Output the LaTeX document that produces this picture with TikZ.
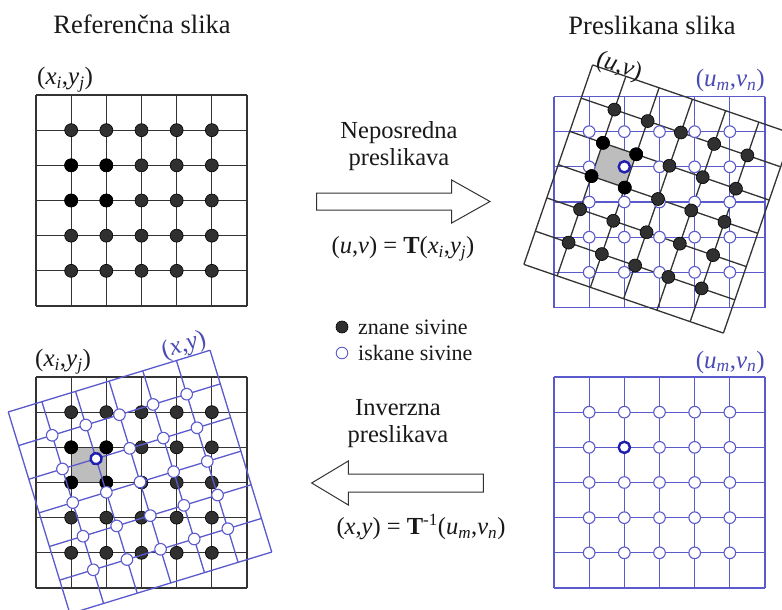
\documentclass[tikz,border=0pt]{standalone}
\usepackage{fontspec}
\setmainfont{Liberation Serif}
\definecolor{gline}{HTML}{333333}
\definecolor{bline}{HTML}{5A5ACD}
\definecolor{btext}{HTML}{4B4BB4}
\definecolor{bhi}{HTML}{2020B0}
\definecolor{dotc}{HTML}{303030}
\definecolor{cellg}{HTML}{BDBDBD}
\newcommand{\vx}[2]{\textit{#1}\textsubscript{\textit{#2}}}
\newcommand{\mygrid}[1]{%
  \foreach \k in {0,...,6} {
    \draw[#1] ({-105.5+\k*35.1667},-105.5) -- ({-105.5+\k*35.1667},105.5);
    \draw[#1] (-105.5,{-105.5+\k*35.1667}) -- (105.5,{-105.5+\k*35.1667});
  }}
\newcommand{\myfill}[3]{% style, i, j
  \fill[#1] ({-105.5+#2*35.1667},{-105.5+#3*35.1667}) circle (6.5pt);}
\newcommand{\myring}[3]{%
  \filldraw[#1] ({-105.5+#2*35.1667},{-105.5+#3*35.1667}) circle (5.8pt);}
\newcommand{\mydots}{%
  \foreach \i in {1,...,5} { \foreach \j in {1,...,5} {
    \filldraw[kdot] ({-105.5+\i*35.1667},{-105.5+\j*35.1667}) circle (6.5pt);}}
  \foreach \i/\j in {1/2,2/2,1/3,2/3} {
    \filldraw[kdotb] ({-105.5+\i*35.1667},{-105.5+\j*35.1667}) circle (6.5pt);}}
\newcommand{\myrings}{%
  \foreach \i in {1,...,5} { \foreach \j in {1,...,5} {
    \filldraw[odot] ({-105.5+\i*35.1667},{-105.5+\j*35.1667}) circle (5.8pt);}}
  \filldraw[hdot] ({-105.5+2*35.1667},{-105.5+2*35.1667}) circle (5.6pt);}
\newcommand{\mycell}{%
  \fill[cellg] ({-105.5+1*35.1667},{-105.5+2*35.1667}) rectangle ({-105.5+2*35.1667},{-105.5+3*35.1667});}
\tikzset{
  gridk/.style={draw=gline, line width=1.3pt},
  gridb/.style={draw=bline, line width=1.3pt},
  kdot/.style={fill=dotc, draw=black, line width=0.6pt},
  kdotb/.style={fill=black, draw=black, line width=0.6pt},
  odot/.style={fill=white, draw=bline, line width=1.1pt},
  hdot/.style={fill=white, draw=bhi, line width=2.4pt},
  title/.style={font=\fontsize{26.5}{30}\selectfont, inner sep=0pt, text=black!90},
  lbl/.style={font=\fontsize{25}{28}\selectfont, inner sep=0pt, text=black!90},
  blbl/.style={font=\fontsize{25}{28}\selectfont, inner sep=0pt, text=btext},
  mid/.style={font=\fontsize{24.5}{27}\selectfont, inner sep=0pt, align=center, text=black!90},
  leg/.style={font=\fontsize{22}{26}\selectfont, inner sep=0pt, anchor=west, text=black!90},
  bigarrow/.style={draw=gline, fill=white, line width=1pt, line join=miter},
}
\begin{document}
\begin{tikzpicture}[x=1pt, y=-1pt]
\useasboundingbox[fill=white] (0,0) rectangle (782,610);

% ---------- top left: reference image ----------
\begin{scope}[shift={(141.5,200.5)}]
  \mygrid{gridk}
  \mydots
\end{scope}

% ---------- top right: mapped image ----------
\begin{scope}[shift={(659.5,202)}]
  \mygrid{gridb}
\end{scope}
\begin{scope}[shift={(658,199)}, rotate=-19]
  \mycell
  \mygrid{gridk}
\end{scope}
\begin{scope}[shift={(659.5,202)}]
  \myrings
\end{scope}
\begin{scope}[shift={(658,199)}, rotate=-19]
  \mydots
\end{scope}

% ---------- bottom left: inverse ----------
\begin{scope}[shift={(141.5,482.5)}]
  \mycell
  \mygrid{gridk}
  \mydots
\end{scope}
\begin{scope}[shift={(140,482)}, rotate=17]
  \mygrid{gridb}
  \myrings
\end{scope}

% ---------- bottom right ----------
\begin{scope}[shift={(659.5,482.5)}]
  \mygrid{gridb}
  \myrings
\end{scope}

% ---------- titles and labels ----------
\node[title] (t1) at (142,24) {Referenčna slika};
\node[title] (t2) at (652,25) {Preslikana slika};
\node[lbl, anchor=base west] (l1) at (37,84.5) {(\vx{x}{i},\vx{y}{j})};
\node[lbl, anchor=base west] (l2) at (35,366.5) {(\vx{x}{i},\vx{y}{j})};
\node[blbl, rotate=17] (l3) at (184,346) {(\textit{x},\textit{y})};
\node[lbl, rotate=-19] (l4) at (619,67) {(\textit{u},\textit{v})};
\node[blbl, anchor=base east] (l5) at (765,87) {(\vx{u}{m},\vx{v}{n})};
\node[blbl, anchor=base east] (l6) at (765,368) {(\vx{u}{m},\vx{v}{n})};

% ---------- middle ----------
\node[mid] (m1) at (399,146.5) {Neposredna\\preslikava};
\draw[bigarrow] (316.7,193) -- (451.7,193) -- (451.7,180) -- (490,201.5)
  -- (451.7,223) -- (451.7,210) -- (316.7,210) -- cycle;
\node[mid] (f1) at (403,249) {(\textit{u},\textit{v}) = \textbf{T}(\vx{x}{i},\vx{y}{j})};

\filldraw[kdot] (342,327) circle (6pt);
\node[leg] (g1) at (358,327) {znane sivine};
\filldraw[odot, line width=0.9pt] (342,353) circle (5.8pt);
\node[leg] (g2) at (358,353) {iskane sivine};

\node[mid] (m2) at (398,423.5) {Inverzna\\preslikava};
\draw[bigarrow] (483.3,474) -- (348.3,474) -- (348.3,461) -- (311.7,483)
  -- (348.3,505) -- (348.3,492) -- (483.3,492) -- cycle;
\node[mid] (f2) at (421,527) {(\textit{x},\textit{y}) = \textbf{T}\textsuperscript{-1}(\vx{u}{m},\vx{v}{n})};
\end{tikzpicture}
\end{document}
